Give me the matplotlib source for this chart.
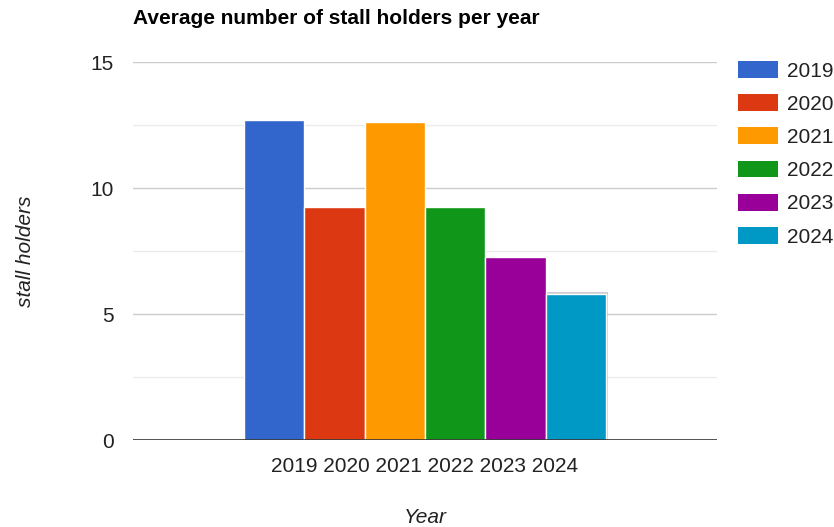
import matplotlib.pyplot as plt
from matplotlib.patches import Patch

plt.rcParams['font.family'] = ['Liberation Sans', 'DejaVu Sans']

years = ['2019', '2020', '2021', '2022', '2023', '2024']
values = [12.7, 9.25, 12.6, 9.25, 7.25, 5.8]
colors = ['#3366cc', '#dc3912', '#ff9900', '#109618', '#990099', '#0099c6']

fig = plt.figure(figsize=(8.34, 5.27), dpi=100)
ax = fig.add_axes([133 / 834, 87 / 527, 584 / 834, 378 / 527])

n = len(years)
group = 0.62
w = group / n
for i, (yr, v, c) in enumerate(zip(years, values, colors)):
    x = (i - (n - 1) / 2) * w
    if i == n - 1:
        # hover shadow on the last bar
        ax.bar(x, v + 0.08, width=w * 1.05, color='#888888', alpha=0.4, zorder=2)
    ax.bar(x, v, width=w, color=c, edgecolor='white', linewidth=1, zorder=3, label=yr)

ax.set_xlim(-0.5, 0.5)
ax.set_ylim(0, 15)

# gridlines
for y in [2.5, 7.5, 12.5]:
    ax.axhline(y, color='#ebebeb', linewidth=1, zorder=1)
for y in [5, 10, 15]:
    ax.axhline(y, color='#cccccc', linewidth=1, zorder=1)
ax.axhline(0, color='#333333', linewidth=1.2, zorder=4)

ax.set_yticks([0, 5, 10, 15])
ax.set_xticks([0])
ax.set_xticklabels([' '.join(years)])
ax.tick_params(axis='both', length=0, labelsize=15, colors='#222222')
ax.tick_params(axis='y', pad=14)
ax.tick_params(axis='x', pad=12)
for s in ax.spines.values():
    s.set_visible(False)

ax.set_ylabel('stall holders', fontsize=15, style='italic', color='#222222', labelpad=40)
ax.set_xlabel('Year', fontsize=15, style='italic', color='#222222', labelpad=23)

fig.text(133 / 834, 1 - 18 / 527, 'Average number of stall holders per year',
         fontsize=15, fontweight='bold', color='black', va='center', ha='left')

handles = [Patch(facecolor=c, edgecolor='none') for c in colors]
fig.legend(handles, years, loc='upper left', bbox_to_anchor=(738 / 834, 1 - 61 / 527),
           frameon=False, fontsize=15, handlelength=1.92, handleheight=0.87,
           labelspacing=0.65, handletextpad=0.43, borderpad=0, borderaxespad=0,
           labelcolor='#222222')

fig.savefig('out.png', dpi=100)
